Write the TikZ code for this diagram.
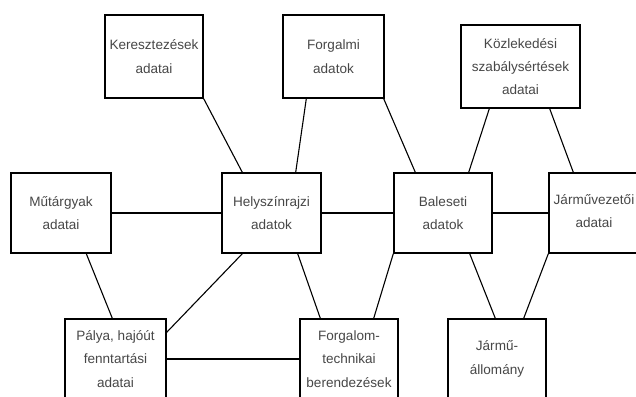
\documentclass[tikz,border=0pt]{standalone}
\usepackage{fontspec}
\setmainfont{Liberation Sans}
\begin{document}
\begin{tikzpicture}[x=1bp,y=-1bp,
  boxtext/.style={align=center, text=black!72, inner sep=0pt,
    font=\fontsize{13.6}{23.5}\selectfont},
  databox/.style={boxtext, draw=black, line width=1.4bp, fill=white,
    minimum height=80bp},
  link/.style={draw=black, line width=1.1bp}]
\clip (0,0) rectangle (636,396);
\fill[white] (0,0) rectangle (636,396);

% top row
\node[databox, minimum width=98bp, minimum height=83bp] (ker) at (154,56.5) {Keresztezések\\adatai};
\node[databox, minimum width=101bp, minimum height=83bp] (forg) at (333.5,56.5) {Forgalmi\\adatok};
\node[databox, minimum width=119bp, minimum height=83bp] (kozl) at (520.5,66.5) {Közlekedési\\szabálysértések\\adatai};

% middle row
\node[databox, minimum width=100bp] (mut) at (61,213) {Műtárgyak\\adatai};
\node[databox, minimum width=99bp] (hely) at (271.5,213) {Helyszínrajzi\\adatok};
\node[databox, minimum width=98bp] (bal) at (443,213) {Baleseti\\adatok};
\node[databox, minimum width=100bp] (jmv) at (599,213) {};
% the last box runs past the right edge, so its text sits a little left of centre
\node[boxtext] (jmvtext) at (594,211) {Járművezetői\\adatai};

% bottom row
\node[databox, minimum width=101bp] (palya) at (115.5,359) {Pálya, hajóút\\fenntartási\\adatai};
\node[databox, minimum width=98bp] (ftech) at (349,359) {Forgalom-\\technikai\\berendezések};
\node[databox, minimum width=98bp] (jall) at (497,359) {Jármű-\\állomány};

% connectors
\draw[link] (ker.south east) -- ([xshift=21bp]hely.north west);
\draw[link] ([xshift=24bp]forg.south west) -- ([xshift=-26bp]hely.north east);
\draw[link] ([xshift=-1bp]forg.south east) -- ([xshift=22bp]bal.north west);
\draw[link] ([xshift=29bp]kozl.south west) -- ([xshift=-24bp]bal.north east);
\draw[link] ([xshift=-31bp]kozl.south east) -- ([xshift=25bp]jmv.north west);
\draw[link] (mut.east) -- (hely.west);
\draw[link] (hely.east) -- (bal.west);
\draw[link] (bal.east) -- (jmv.west);
\draw[link] ([xshift=76bp]mut.south west) -- ([xshift=48bp]palya.north west);
\draw[link] ([xshift=21bp]hely.south west) -- ([yshift=-14bp]palya.north east);
\draw[link] ([xshift=-24bp]hely.south east) -- ([xshift=21bp]ftech.north west);
\draw[link] (bal.south west) -- ([xshift=-25bp]ftech.north east);
\draw[link] ([xshift=-23bp]bal.south east) -- ([xshift=48bp]jall.north west);
\draw[link] (jmv.south west) -- ([xshift=-23bp]jall.north east);
\draw[link] (palya.east) -- (ftech.west);
\end{tikzpicture}
\end{document}
